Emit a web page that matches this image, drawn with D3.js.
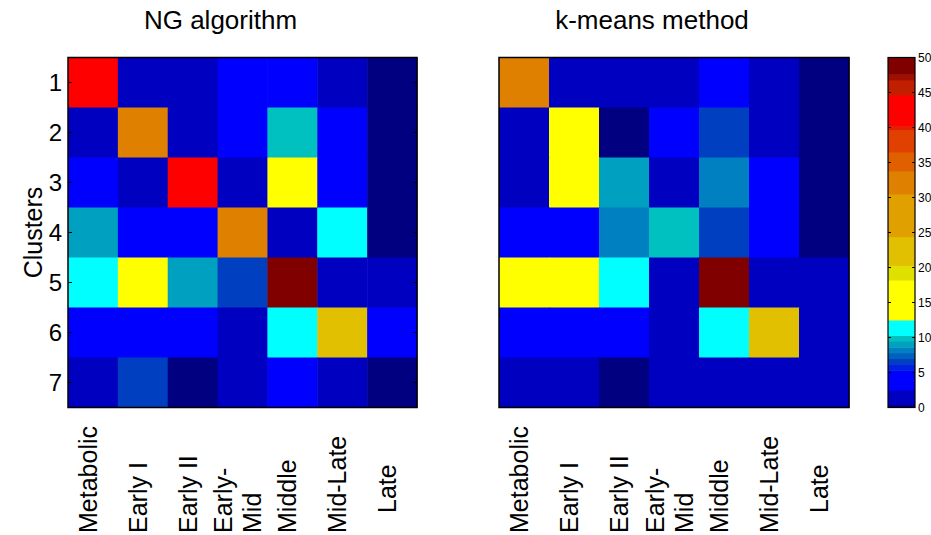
<!DOCTYPE html>
<html>
<head>
<meta charset="utf-8">
<script src="https://cdn.jsdelivr.net/npm/d3@7"></script>
<style>
  body { margin: 0; background: #fff; }
  text { font-family: "Liberation Sans", Arial, sans-serif; fill: #000; }
</style>
</head>
<body>
<div id="chart"></div>
<script>
// stages along the x axis, clusters down the y axis
var stages = ["Metabolic", "Early I", "Early II", "Early-\nMid", "Middle", "Mid-Late", "Late"];
var clusters = ["1", "2", "3", "4", "5", "6", "7"];

// NG algorithm, one row per cluster
var ngValues = [
  [42.0, 1.5, 1.8, 4.0, 4.2, 1.6, 0.2],
  [1.4, 32.0, 1.7, 3.8, 9.9, 4.1, 0.2],
  [4.3, 1.6, 42.5, 1.9, 15.0, 3.9, 0.1],
  [9.0, 4.0, 4.4, 31.5, 1.7, 11.0, 0.2],
  [11.2, 15.5, 9.1, 6.5, 49.0, 1.8, 1.6],
  [4.1, 3.9, 4.2, 1.5, 11.5, 22.0, 4.0],
  [1.3, 6.6, 0.2, 1.7, 4.5, 1.9, 0.1]
];

// k-means method
var kmValues = [
  [32.5, 1.6, 1.8, 1.5, 4.3, 1.7, 0.1],
  [1.5, 15.8, 0.2, 4.1, 6.6, 1.6, 0.2],
  [1.7, 16.0, 9.0, 1.6, 8.1, 4.0, 0.1],
  [4.2, 4.4, 8.2, 9.8, 6.4, 4.1, 0.2],
  [14.8, 15.2, 11.0, 1.9, 48.5, 1.5, 1.8],
  [3.9, 4.3, 4.0, 1.6, 11.3, 22.5, 1.5],
  [1.4, 1.5, 0.2, 1.8, 1.6, 1.5, 1.7]
];

var titles = ["NG algorithm", "k-means method"];
var cbTicks = [0, 5, 10, 15, 20, 25, 30, 35, 40, 45, 50];

// stepped colormap
var cmapBreaks = [0.4, 2.5, 5.3, 6.2, 7.0, 7.8, 8.6, 9.5, 10.3, 12.5, 18.2, 20.3, 24.4, 30.5, 33.8, 36.5, 39.7, 40.2, 44.7, 46.8, 47.6];
var cmapColors = ["#000080", "#0000C0", "#0000FF", "#0020E0", "#0040C0", "#0060C0", "#0080C0", "#00A0C0", "#00C0C0", "#00FFFF",
                  "#FFFF00", "#E0E000", "#E0C000", "#E0A000", "#E08000", "#E06000", "#E04000", "#E02000", "#FF0000", "#C02000", "#A01000", "#800000"];

var width = 931, height = 535;
var top0 = 57.5, bottom0 = 407.5;
var panels = [
  {x0: 68, x1: 417, data: ngValues, title: titles[0], yLabels: true},
  {x0: 499, x1: 849, data: kmValues, title: titles[1], yLabels: false}
];

var color = d3.scaleThreshold().domain(cmapBreaks).range(cmapColors);

var svg = d3.select("#chart").append("svg")
    .attr("width", width)
    .attr("height", height);

var y = d3.scaleBand()
    .domain(clusters)
    .range([top0, bottom0]);

panels.forEach(function(p) {
  var x = d3.scaleBand()
      .domain(stages)
      .range([p.x0, p.x1]);

  var g = svg.append("g");

  var cells = [];
  p.data.forEach(function(row, i) {
    row.forEach(function(v, j) {
      cells.push({c: clusters[i], s: stages[j], v: v});
    });
  });

  g.selectAll("rect.cell")
      .data(cells)
      .enter().append("rect")
      .attr("class", "cell")
      .attr("x", function(d) { return x(d.s); })
      .attr("y", function(d) { return y(d.c); })
      .attr("width", x.bandwidth() + 0.5)
      .attr("height", y.bandwidth() + 0.5)
      .style("fill", function(d) { return color(d.v); });

  g.append("rect")
      .attr("x", p.x0)
      .attr("y", top0)
      .attr("width", p.x1 - p.x0)
      .attr("height", bottom0 - top0)
      .style("fill", "none")
      .style("stroke", "#000")
      .style("stroke-width", 1.5);

  g.append("text")
      .attr("x", (p.x0 + p.x1) / 2 - 22)
      .attr("y", 29)
      .attr("text-anchor", "middle")
      .style("font-size", "26px")
      .text(p.title);

  if (p.yLabels) {
    // inward ticks on both sides, like matlab's box
    clusters.forEach(function(c) {
      var cy = y(c) + y.bandwidth() / 2;
      g.append("line").attr("x1", p.x0).attr("x2", p.x0 + 4).attr("y1", cy).attr("y2", cy).style("stroke", "#000");
      g.append("line").attr("x1", p.x1 - 4).attr("x2", p.x1).attr("y1", cy).attr("y2", cy).style("stroke", "#000");
    });

    g.selectAll("text.ylab")
        .data(clusters)
        .enter().append("text")
        .attr("class", "ylab")
        .attr("x", 62)
        .attr("y", function(d) { return y(d) + y.bandwidth() / 2; })
        .attr("dy", "0.36em")
        .attr("text-anchor", "end")
        .style("font-size", "24px")
        .text(function(d) { return d; });

    svg.append("text")
        .attr("transform", "translate(42," + ((top0 + bottom0) / 2) + ") rotate(-90)")
        .attr("text-anchor", "middle")
        .style("font-size", "25px")
        .text("Clusters");
  }

  // rotated stage labels, read bottom to top
  stages.forEach(function(s) {
    var lines = s.split("\n");
    var cx = x(s) + x.bandwidth() / 2;
    var lift = s === "Late" ? 20 : 0; // this one sits a bit higher in the original
    var t = g.append("text")
        .attr("transform", "translate(" + cx + "," + (533 - lift) + ") rotate(-90)")
        .attr("text-anchor", "start")
        .style("font-size", "25px");
    lines.forEach(function(line, i) {
      t.append("tspan")
          .attr("x", 0)
          .attr("y", 4 + (i - (lines.length - 1) / 2) * 29)
          .text(line);
    });
  });
});

// colorbar
var cbX = 888, cbW = 27;
var cbY = d3.scaleLinear().domain([0, 50]).range([bottom0, top0]);
var edges = [0].concat(cmapBreaks).concat([50]);
var bands = d3.range(cmapColors.length).map(function(i) {
  return {lo: edges[i], hi: edges[i + 1], c: cmapColors[i]};
});

var cb = svg.append("g");
cb.selectAll("rect.band")
    .data(bands)
    .enter().append("rect")
    .attr("class", "band")
    .attr("x", cbX)
    .attr("y", function(d) { return cbY(d.hi); })
    .attr("width", cbW)
    .attr("height", function(d) { return cbY(d.lo) - cbY(d.hi) + 0.5; })
    .style("fill", function(d) { return d.c; });

cb.append("rect")
    .attr("x", cbX)
    .attr("y", top0)
    .attr("width", cbW)
    .attr("height", bottom0 - top0)
    .style("fill", "none")
    .style("stroke", "#000")
    .style("stroke-width", 1.2);

cbTicks.forEach(function(t) {
  var ty = cbY(t);
  cb.append("line").attr("x1", cbX).attr("x2", cbX + 3).attr("y1", ty).attr("y2", ty).style("stroke", "#000");
  cb.append("line").attr("x1", cbX + cbW - 3).attr("x2", cbX + cbW).attr("y1", ty).attr("y2", ty).style("stroke", "#000");
  cb.append("text")
      .attr("x", cbX + cbW + 3)
      .attr("y", ty)
      .attr("dy", "0.36em")
      .style("font-size", "12px")
      .text(t);
});
</script>
</body>
</html>
